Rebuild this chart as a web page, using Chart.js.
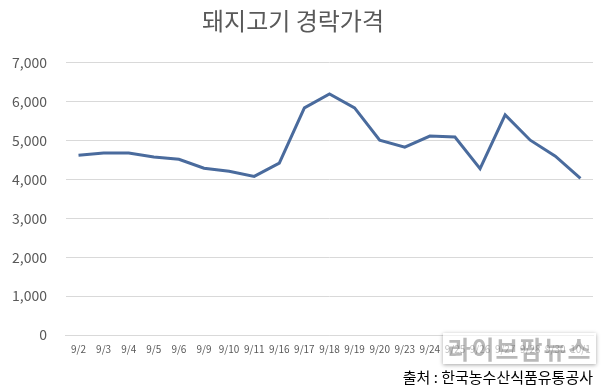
<!DOCTYPE html>
<html>
<head>
<meta charset="utf-8">
<script src="https://cdn.jsdelivr.net/npm/chart.js@4/dist/chart.umd.min.js"></script>
<style>
  html, body { margin: 0; padding: 0; background: #fff; }
  #wrap { position: relative; width: 613px; height: 387px; }
  #mark {
    position: absolute; left: 443px; top: 333px; width: 153px; height: 31px;
    background: rgba(255,255,255,0.6); box-shadow: 0 1px 4px rgba(0,0,0,0.35);
    font-family: "Noto Sans CJK KR", sans-serif; font-weight: 700; font-size: 25px;
    color: rgba(80,80,80,0.4); text-align: center; line-height: 31px; letter-spacing: 1px;
  }
</style>
</head>
<body>
<div id="wrap">
  <canvas id="chart" width="613" height="387"></canvas>
  <div id="mark">라이브팜뉴스</div>
</div>
<script>
// 날짜 (2019)
const dates = ["9/2", "9/3", "9/4", "9/5", "9/6", "9/9", "9/10", "9/11", "9/16", "9/17",
  "9/18", "9/19", "9/20", "9/23", "9/24", "9/25", "9/26", "9/27", "9/28", "9/30", "10/1"];
// 돼지고기 경락가격 (원/kg)
const prices = [4625, 4680, 4680, 4575, 4520, 4290, 4210, 4080, 4420, 5840,
  6200, 5840, 5010, 4830, 5115, 5090, 4280, 5660, 5010, 4600, 4030];
const yTicks = [0, 1000, 2000, 3000, 4000, 5000, 6000, 7000];

const fontFamily = '"Noto Sans CJK KR", "Open Sans", sans-serif';

const ctx = document.getElementById("chart").getContext("2d");
new Chart(ctx, {
  type: "line",
  data: {
    labels: dates,
    datasets: [{
      data: prices,
      borderColor: "#4a6b9d",
      borderWidth: 3,
      pointRadius: 0,
      tension: 0,
      fill: false,
    }],
  },
  options: {
    responsive: false,
    animation: false,
    layout: { padding: { left: -7, right: 20, top: 0, bottom: 1 } },
    plugins: {
      legend: { display: false },
      tooltip: { enabled: false },
      title: {
        display: true,
        text: "돼지고기 경락가격",
        color: "#595959",
        font: { family: fontFamily, size: 24, weight: "normal" },
        padding: { top: 6, bottom: 28 },
      },
      subtitle: {
        display: true,
        position: "bottom",
        align: "end",
        text: "출처 : 한국농수산식품유통공사",
        color: "#000",
        font: { family: fontFamily, size: 15, weight: "normal" },
        padding: { top: 5, bottom: 0 },
      },
    },
    scales: {
      x: {
        offset: true,
        grid: { display: false, drawTicks: false },
        border: { display: true, color: "#d9d9d9" },
        ticks: {
          color: "#595959",
          font: { family: fontFamily, size: 10 },
          maxRotation: 0,
          autoSkip: false,
          padding: 8,
        },
      },
      y: {
        min: 0,
        max: 7000,
        afterBuildTicks: (axis) => { axis.ticks = yTicks.map((v) => ({ value: v })); },
        grid: { color: "#d9d9d9", drawTicks: false },
        border: { display: false },
        ticks: {
          color: "#595959",
          font: { family: fontFamily, size: 14 },
          padding: 19,
          callback: (v) => v.toLocaleString("en-US"),
        },
      },
    },
  },
});
</script>
</body>
</html>
